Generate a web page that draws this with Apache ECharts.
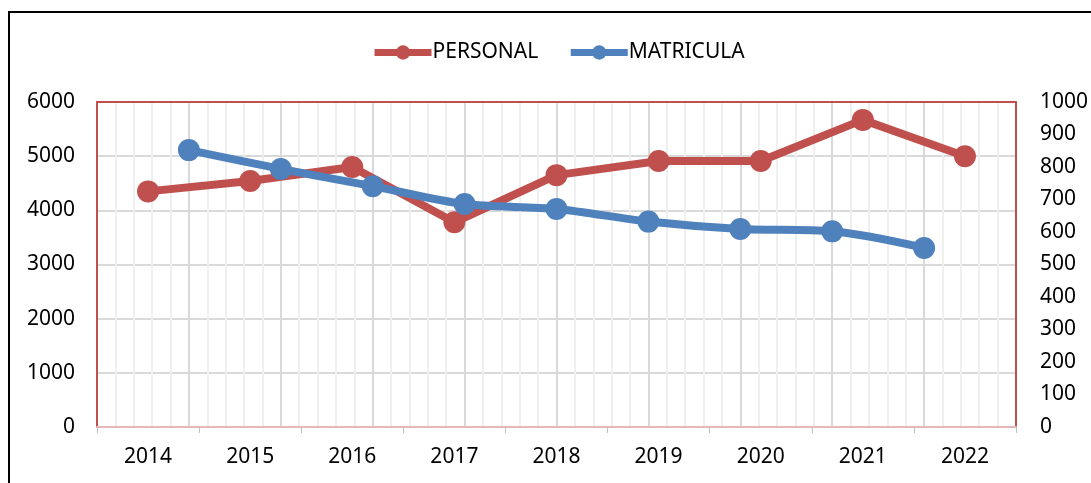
<!DOCTYPE html>
<html lang="es">
<head>
<meta charset="UTF-8">
<title>Personal y Matricula</title>
<style>
  html, body { margin: 0; padding: 0; background: #fff; }
  #chart { width: 1091px; height: 483px; }
</style>
</head>
<body>
<div id="chart"></div>
<script src="https://cdn.jsdelivr.net/npm/echarts@6.0.0/dist/echarts.min.js"></script>
<script>
var years = ['2014', '2015', '2016', '2017', '2018', '2019', '2020', '2021', '2022'];
var personal = [4350, 4540, 4800, 3780, 4650, 4910, 4910, 5670, 5000];
var matricula = [852, 794, 741, 686, 671, 632, 609, 602, 551];
var leftTicks = [0, 6000, 1000];
var rightTicks = [0, 1000, 100];

var red = '#C0504D';
var blue = '#4F81BD';
var font = '"Noto Sans", "Open Sans", sans-serif';
var plain = function (v) { return String(v); };

var chart = echarts.init(document.getElementById('chart'));
chart.setOption({
    animation: false,
    textStyle: { fontFamily: font },
    graphic: [{
        type: 'rect',
        shape: { x: 9, y: 12, width: 1200, height: 600 },
        style: { fill: 'none', stroke: '#000', lineWidth: 2 },
        silent: true
    }],
    legend: {
        top: 37,
        left: 366,
        itemWidth: 57,
        itemHeight: 18,
        itemGap: 29,
        lineStyle: { width: 7 },
        textStyle: { fontSize: 21, color: '#000', fontFamily: font, padding: [0, 0, 0, -4] },
        data: ['PERSONAL', 'MATRICULA']
    },
    grid: {
        left: 97, right: 75, top: 102, bottom: 56,
        containLabel: false,
        outerBoundsMode: 'none'
    },
    xAxis: [{
        type: 'category',
        data: years,
        boundaryGap: true,
        axisLine: { lineStyle: { color: '#E6B9B8', width: 2 } },
        axisTick: { show: true, length: 6, lineStyle: { color: '#bfbfbf' } },
        axisLabel: { fontSize: 21, color: '#000', margin: 20 },
        splitLine: { show: false }
    }, {
        type: 'value',
        position: 'top',
        min: 0, max: 10, interval: 1,
        axisLine: { show: true, onZero: false, lineStyle: { color: red, width: 2 } },
        axisTick: { show: false },
        axisLabel: { show: false },
        splitLine: { show: true, lineStyle: { color: '#d9d9d9', width: 2 } },
        minorTick: { show: false, splitNumber: 5 },
        minorSplitLine: { show: true, lineStyle: { color: '#efefef', width: 2 } }
    }],
    yAxis: [{
        type: 'value',
        min: leftTicks[0], max: leftTicks[1], interval: leftTicks[2],
        axisLine: { show: true, onZero: false, lineStyle: { color: red, width: 2 } },
        axisTick: { show: false },
        axisLabel: { fontSize: 21, color: '#000', margin: 22, formatter: plain },
        splitLine: { show: true, lineStyle: { color: '#d9d9d9', width: 2 } }
    }, {
        type: 'value',
        min: rightTicks[0], max: rightTicks[1], interval: rightTicks[2],
        axisLine: { show: true, onZero: false, lineStyle: { color: red, width: 2 } },
        axisTick: { show: false },
        axisLabel: { fontSize: 21, color: '#000', margin: 24, formatter: plain },
        splitLine: { show: false }
    }],
    series: [{
        name: 'PERSONAL',
        type: 'line',
        xAxisIndex: 0,
        yAxisIndex: 0,
        data: personal,
        symbol: 'circle',
        symbolSize: 22,
        color: red,
        lineStyle: { width: 8, color: red },
        itemStyle: { color: red },
        z: 3
    }, {
        name: 'MATRICULA',
        type: 'line',
        xAxisIndex: 1,
        yAxisIndex: 1,
        data: matricula.map(function (v, i) { return [i + 1, v]; }),
        smooth: 0.3,
        symbol: 'circle',
        symbolSize: 22,
        color: blue,
        lineStyle: { width: 8, color: blue },
        itemStyle: { color: blue },
        z: 4
    }]
});
</script>
</body>
</html>
